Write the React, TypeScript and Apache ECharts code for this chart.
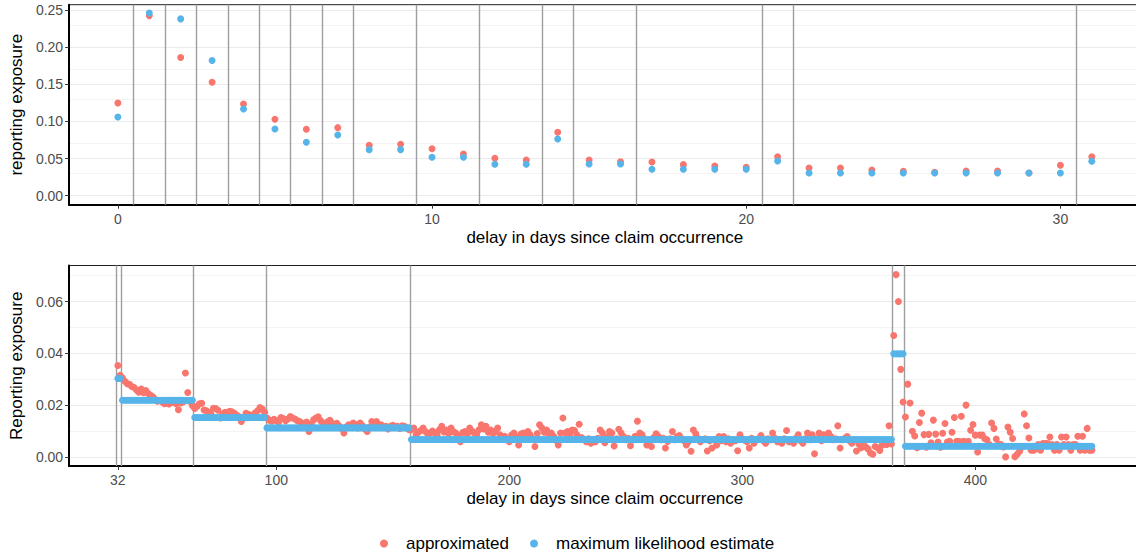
import React, { useEffect, useRef } from "react";
import * as echarts from "echarts";

const FONT = "'Liberation Sans', Arial, Helvetica, sans-serif";
const RED = "#F8766D";
const BLUE = "#56B4E9";

// ---------- top panel (delay 0..31) ----------
const topDelays = [0, 1, 2, 3, 4, 5, 6, 7, 8, 9, 10, 11, 12, 13, 14, 15, 16, 17, 18, 19, 20, 21, 22, 23, 24, 25, 26, 27, 28, 29, 30, 31];
const topApprox = [
  0.1248, 0.2424, 0.186, 0.1527, 0.1235, 0.1029, 0.0894, 0.0916, 0.0678, 0.0692,
  0.0633, 0.0561, 0.0503, 0.048, 0.0853, 0.048, 0.0458, 0.0454, 0.0418, 0.04,
  0.0382, 0.0525, 0.0373, 0.0373, 0.0346, 0.0328, 0.0315, 0.0333, 0.0333, 0.0306,
  0.0409, 0.0525,
];
const topMle = [
  0.106, 0.246, 0.238, 0.182, 0.1167, 0.0898, 0.0719, 0.0817, 0.062, 0.062,
  0.0518, 0.0518, 0.0423, 0.0423, 0.0763, 0.0427, 0.0427, 0.0355, 0.0355, 0.0355,
  0.0355, 0.0467, 0.0306, 0.0306, 0.0306, 0.0306, 0.0306, 0.0306, 0.0306, 0.0306,
  0.0306, 0.0463,
];
const topBreaks = [0.5, 1.5, 2.5, 3.5, 4.5, 5.5, 6.5, 7.5, 9.5, 11.5, 13.5, 14.5, 16.5, 20.5, 21.5, 30.5];
const topXTicks = [0, 10, 20, 30];
const topYTicks = [0, 0.05, 0.1, 0.15, 0.2, 0.25];
const topYMinor = [0.025, 0.075, 0.125, 0.175, 0.225];

// ---------- bottom panel (delay 32..450) ----------
const bottomFirstDelay = 32;
const bottomApprox = [
  // 32-41
  0.0353, 0.0315, 0.0305, 0.0292, 0.0283, 0.028, 0.0272, 0.0268, 0.0258, 0.025,
  // 42-51
  0.0262, 0.0248, 0.0256, 0.0245, 0.0238, 0.0232, 0.0222, 0.0215, 0.0218, 0.0212,
  // 52-61
  0.0205, 0.0208, 0.0204, 0.021, 0.0213, 0.0205, 0.0182, 0.0208, 0.0212, 0.0324,
  // 62-71
  0.0249, 0.0214, 0.0198, 0.0187, 0.0195, 0.0205, 0.0207, 0.0181, 0.0178, 0.0172,
  // 72-81
  0.0165, 0.0188, 0.0187, 0.018, 0.015, 0.0165, 0.0172, 0.016, 0.0176, 0.0174,
  // 82-91
  0.0168, 0.0162, 0.0155, 0.0137, 0.015, 0.0168, 0.0165, 0.016, 0.0163, 0.017,
  // 92-101
  0.0178, 0.0191, 0.0185, 0.0172, 0.015, 0.0142, 0.0138, 0.0145, 0.014, 0.0135,
  // 102-111
  0.0152, 0.0148, 0.014, 0.0146, 0.0156, 0.015, 0.0146, 0.014, 0.0137, 0.0131,
  // 112-121
  0.0128, 0.0135, 0.0098, 0.0126, 0.0143, 0.015, 0.0155, 0.014, 0.0131, 0.0125,
  // 122-131
  0.0136, 0.0141, 0.013, 0.0124, 0.013, 0.0119, 0.011, 0.0092, 0.0115, 0.0124,
  // 132-141
  0.0118, 0.0131, 0.0125, 0.0112, 0.0131, 0.012, 0.0108, 0.0098, 0.0115, 0.0137,
  // 142-151
  0.0128, 0.0137, 0.0122, 0.0124, 0.0115, 0.0118, 0.0108, 0.0118, 0.0122, 0.0115,
  // 152-157
  0.0118, 0.011, 0.012, 0.0118, 0.0112, 0.0105,
  // 158-167
  0.0105, 0.0111, 0.0085, 0.0095, 0.0102, 0.0111, 0.0098, 0.0088, 0.0092, 0.01,
  // 168-177
  0.0092, 0.0085, 0.0105, 0.0118, 0.0096, 0.0104, 0.009, 0.0111, 0.0098, 0.0092,
  // 178-187
  0.0082, 0.0059, 0.0094, 0.0098, 0.0088, 0.0111, 0.01, 0.0092, 0.0086, 0.0105,
  // 188-197
  0.0124, 0.0108, 0.0118, 0.0095, 0.0104, 0.009, 0.0098, 0.0111, 0.0085, 0.0072,
  // 198-207
  0.008, 0.0066, 0.0059, 0.0084, 0.0092, 0.0078, 0.0046, 0.0088, 0.0092, 0.0075,
  // 208-217
  0.0098, 0.0084, 0.007, 0.004, 0.009, 0.0124, 0.0111, 0.0095, 0.0104, 0.0086,
  // 218-227
  0.0092, 0.008, 0.0064, 0.0046, 0.0092, 0.015, 0.0092, 0.0098, 0.0088, 0.0104,
  // 228-237
  0.0102, 0.0085, 0.0126, 0.0075, 0.0068, 0.0059, 0.007, 0.0053, 0.0066, 0.0059,
  // 238-247
  0.0072, 0.0104, 0.0092, 0.0055, 0.0078, 0.0098, 0.0092, 0.0042, 0.007, 0.0107,
  // 248-257
  0.0092, 0.0079, 0.0066, 0.0072, 0.0043, 0.0066, 0.008, 0.0138, 0.0092, 0.0085,
  // 258-267
  0.007, 0.0046, 0.0062, 0.004, 0.0075, 0.0089, 0.0079, 0.0066, 0.0072, 0.0034,
  // 268-277
  0.006, 0.007, 0.0098, 0.0066, 0.0079, 0.0082, 0.007, 0.0062, 0.0046, 0.006,
  // 278-287
  0.0022, 0.0104, 0.0089, 0.0072, 0.0059, 0.0066, 0.007, 0.0023, 0.0062, 0.0034,
  // 288-297
  0.0066, 0.0046, 0.0079, 0.0062, 0.0079, 0.0059, 0.007, 0.0053, 0.0066, 0.0062,
  // 298-307
  0.0024, 0.0085, 0.007, 0.0064, 0.0059, 0.0034, 0.0072, 0.0053, 0.0066, 0.007,
  // 308-317
  0.0082, 0.0062, 0.0053, 0.007, 0.0066, 0.0092, 0.0072, 0.0059, 0.0066, 0.0053,
  // 318-327
  0.007, 0.0102, 0.0059, 0.0066, 0.0053, 0.0072, 0.0085, 0.0062, 0.0053, 0.007,
  // 328-337
  0.0092, 0.0066, 0.0085, 0.0012, 0.007, 0.0092, 0.0062, 0.0085, 0.0072, 0.0092,
  // 338-347
  0.0079, 0.0066, 0.007, 0.012, 0.0034, 0.0066, 0.0072, 0.0079, 0.0062, 0.0053,
  // 348-357
  0.0066, 0.0023, 0.005, 0.0035, 0.005, 0.0038, 0.003, 0.0015, 0.001, 0.004,
  // 358-364
  0.0035, 0.0025, 0.0045, 0.005, 0.0048, 0.012, 0.005,
  // 365-369
  0.0469, 0.0704, 0.06, 0.0338, 0.0212,
  // 370-379
  0.0154, 0.0281, 0.0208, 0.0099, 0.0081, 0.0035, 0.0133, 0.0169, 0.0086, 0.0037,
  // 380-389
  0.0087, 0.0054, 0.0142, 0.0088, 0.0057, 0.0037, 0.0091, 0.0129, 0.0057, 0.006,
  // 390-399
  0.0095, 0.0152, 0.006, 0.006, 0.0157, 0.006, 0.02, 0.006, 0.0103, 0.0125,
  // 400-409
  0.0084, 0.0019, 0.0084, 0.0084, 0.0071, 0.0066, 0.0048, 0.0131, 0.011, 0.0069,
  // 410-419
  0.0048, 0.0048, 0.0038, 0.0, 0.0115, 0.0095, 0.0071, 0.0001, 0.001, 0.0022,
  // 420-429
  0.0037, 0.0166, 0.012, 0.0073, 0.0026, 0.0026, 0.0032, 0.0048, 0.0026, 0.0052,
  // 430-439
  0.0052, 0.0052, 0.0077, 0.0048, 0.0026, 0.0048, 0.0026, 0.0077, 0.0048, 0.0077,
  // 440-450
  0.0048, 0.0026, 0.0048, 0.0048, 0.008, 0.0026, 0.008, 0.0026, 0.011, 0.0026, 0.0026,
];
// maximum likelihood estimate: constant on each delay group
const mleGroupFrom = [32, 34, 65, 96, 158, 365, 370];
const mleGroupTo = [33, 64, 95, 157, 364, 369, 450];
const mleGroupValue = [0.0303, 0.0219, 0.0152, 0.0112, 0.0067, 0.0398, 0.0041];
const bottomBreaks = [31.5, 33.5, 64.5, 95.5, 157.5, 364.5, 369.5];
const bottomXTicks = [32, 100, 200, 300, 400];
const bottomYTicks = [0, 0.02, 0.04, 0.06];
const bottomYMinor = [0.01, 0.03, 0.05, 0.07];

const SERIES_APPROX = "approximated";
const SERIES_MLE = "maximum likelihood estimate";

function gridMarkLine(major: number[], minor: number[]) {
  return {
    silent: true,
    z: 0,
    symbol: ["none", "none"],
    label: { show: false },
    emphasis: { disabled: true },
    lineStyle: { color: "#ebebeb", width: 1, type: "solid" },
    data: [
      ...major.map((v) => ({ yAxis: v, lineStyle: { color: "#ebebeb", width: 1.1, type: "solid" } })),
      ...minor.map((v) => ({ yAxis: v, lineStyle: { color: "#eeeeee", width: 0.7, type: "solid" } })),
    ],
  };
}

function breakMarkLine(breaks: number[]) {
  return {
    silent: true,
    z: 1,
    symbol: ["none", "none"],
    label: { show: false },
    emphasis: { disabled: true },
    lineStyle: { color: "#9e9e9e", width: 1.4, type: "solid" },
    data: breaks.map((v) => ({ xAxis: v })),
  };
}

function makeXAxis(gridIndex: number, min: number, max: number, ticks: number[]) {
  return {
    type: "value",
    gridIndex,
    min,
    max,
    splitLine: { show: false },
    axisLine: { show: true, onZero: false, lineStyle: { color: "#000", width: 2 } },
    axisTick: { show: true, length: 4, customValues: ticks, lineStyle: { color: "#333", width: 1 } },
    axisLabel: { customValues: ticks, color: "#4d4d4d", fontSize: 14, fontFamily: FONT, margin: 7 },
    name: "delay in days since claim occurrence",
    nameLocation: "middle",
    nameGap: 24,
    nameTextStyle: { fontSize: 17, color: "#000", fontFamily: FONT },
  };
}

function makeYAxis(gridIndex: number, min: number, max: number, ticks: number[], name: string) {
  return {
    type: "value",
    gridIndex,
    min,
    max,
    splitLine: { show: false },
    axisLine: { show: true, onZero: false, lineStyle: { color: "#000", width: 2 } },
    axisTick: { show: true, length: 4, customValues: ticks, lineStyle: { color: "#333", width: 1 } },
    axisLabel: {
      customValues: ticks,
      color: "#4d4d4d",
      fontSize: 14,
      fontFamily: FONT,
      margin: 6,
      formatter: (v: number) => v.toFixed(2),
    },
    name,
    nameLocation: "middle",
    nameRotate: 90,
    nameGap: 44,
    nameTextStyle: { fontSize: 17, color: "#000", fontFamily: FONT },
  };
}

export default function App() {
  const ref = useRef<HTMLDivElement>(null);
  useEffect(() => {
    if (!ref.current) return;
    const chart = echarts.init(ref.current, null, { renderer: "svg" });

    const topApproxData = topDelays.map((d, i) => [d, topApprox[i]]);
    const topMleData = topDelays.map((d, i) => [d, topMle[i]]);
    const bottomApproxData = bottomApprox.map((v, i) => [bottomFirstDelay + i, v]);
    const bottomMleData: number[][] = [];
    mleGroupFrom.forEach((from, g) => {
      for (let d = from; d <= mleGroupTo[g]; d++) bottomMleData.push([d, mleGroupValue[g]]);
    });

    const pointStyle = (color: string) => ({ color, opacity: 1 });

    chart.setOption({
      animation: false,
      backgroundColor: "#ffffff",
      textStyle: { fontFamily: FONT },
      grid: [
        { left: 69, top: 4.7, width: 1071.5, height: 200, show: true, borderColor: "#222", borderWidth: 1, backgroundColor: "transparent" },
        { left: 69, top: 265.5, width: 1071.5, height: 200.5, show: true, borderColor: "#222", borderWidth: 1, backgroundColor: "transparent" },
      ],
      xAxis: [makeXAxis(0, -1.55, 32.55, topXTicks), makeXAxis(1, 11.1, 470.9, bottomXTicks)],
      yAxis: [
        makeYAxis(0, -0.0121, 0.2571, topYTicks, "reporting exposure"),
        makeYAxis(1, -0.00352, 0.07392, bottomYTicks, "Reporting exposure"),
      ],
      legend: {
        left: 375,
        top: 530,
        icon: "circle",
        itemWidth: 8,
        itemHeight: 8,
        itemGap: 21,
        textStyle: { fontSize: 17, color: "#000", fontFamily: FONT, padding: [0, 0, 0, 13] },
        data: [SERIES_APPROX, SERIES_MLE],
      },
      series: [
        {
          name: SERIES_APPROX,
          type: "scatter",
          xAxisIndex: 0,
          yAxisIndex: 0,
          symbol: "circle",
          symbolSize: 7,
          itemStyle: pointStyle(RED),
          data: topApproxData,
          z: 3,
          markLine: gridMarkLine(topYTicks, topYMinor),
        },
        {
          name: SERIES_MLE,
          type: "scatter",
          xAxisIndex: 0,
          yAxisIndex: 0,
          symbol: "circle",
          symbolSize: 7,
          itemStyle: pointStyle(BLUE),
          data: topMleData,
          z: 4,
          markLine: breakMarkLine(topBreaks),
        },
        {
          name: SERIES_APPROX,
          type: "scatter",
          xAxisIndex: 1,
          yAxisIndex: 1,
          symbol: "circle",
          symbolSize: 7,
          itemStyle: pointStyle(RED),
          data: bottomApproxData,
          z: 3,
          markLine: gridMarkLine(bottomYTicks, bottomYMinor),
        },
        {
          name: SERIES_MLE,
          type: "scatter",
          xAxisIndex: 1,
          yAxisIndex: 1,
          symbol: "circle",
          symbolSize: 7,
          itemStyle: pointStyle(BLUE),
          data: bottomMleData,
          z: 4,
          markLine: breakMarkLine(bottomBreaks),
        },
      ],
    });
    return () => chart.dispose();
  }, []);
  return (
    <div
      ref={ref}
      style={{ position: "fixed", left: 0, top: 0, width: 1150, height: 558, background: "#fff" }}
    />
  );
}
